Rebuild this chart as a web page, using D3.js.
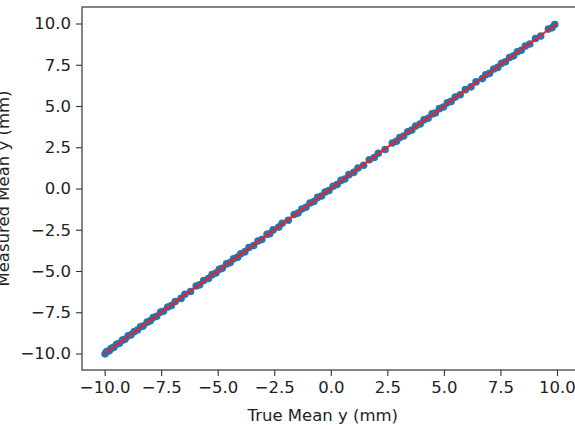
<!DOCTYPE html>
<html>
<head>
<meta charset="utf-8">
<script src="https://cdn.jsdelivr.net/npm/d3@7"></script>
<style>
	body { margin: 0; background: #fff; }
	text { font-family: "DejaVu Sans", sans-serif; }
</style>
</head>
<body>
<div id="vis1"></div>
<script>
// true vs measured mean y (mm)
const trueMean = [
	-9.98, -9.91, -9.80, -9.72, -9.60, -9.47, -9.35, -9.21, -9.10, -8.96,
	-8.83, -8.70, -8.55, -8.41, -8.30, -8.12, -7.98, -7.85, -7.70, -7.52,
	-7.40, -7.21, -7.05, -6.88, -6.62, -6.45, -6.20, -5.95, -5.80, -5.62,
	-5.41, -5.25, -5.08, -4.93, -4.80, -4.61, -4.45, -4.30, -4.12, -3.98,
	-3.80, -3.62, -3.41, -3.22, -3.05, -2.82, -2.70, -2.55, -2.30, -2.15,
	-1.88, -1.62, -1.45, -1.28, -1.10, -0.92, -0.75, -0.58, -0.41, -0.25,
	-0.08, 0.10, 0.28, 0.45, 0.62, 0.80, 1.02, 1.20, 1.45, 1.70,
	1.92, 2.10, 2.40, 2.72, 2.90, 3.05, 3.22, 3.40, 3.58, 3.75,
	3.95, 4.12, 4.30, 4.48, 4.62, 4.80, 4.98, 5.15, 5.32, 5.50,
	5.72, 5.95, 6.20, 6.42, 6.70, 6.85, 7.02, 7.20, 7.38, 7.55,
	7.72, 7.90, 8.08, 8.25, 8.42, 8.60, 8.80, 9.05, 9.28, 9.62,
	9.78, 9.90
];
const measuredMean = [
	-10.02, -9.88, -9.84, -9.70, -9.63, -9.44, -9.38, -9.19, -9.14, -8.93,
	-8.87, -8.68, -8.58, -8.38, -8.34, -8.10, -8.02, -7.82, -7.74, -7.49,
	-7.44, -7.18, -7.09, -6.85, -6.66, -6.41, -6.24, -5.91, -5.84, -5.58,
	-5.45, -5.22, -5.12, -4.90, -4.84, -4.57, -4.49, -4.26, -4.16, -3.95,
	-3.84, -3.58, -3.45, -3.18, -3.09, -2.78, -2.74, -2.51, -2.34, -2.11,
	-1.92, -1.58, -1.49, -1.24, -1.14, -0.88, -0.79, -0.54, -0.45, -0.21,
	-0.12, 0.14, 0.24, 0.49, 0.58, 0.84, 0.98, 1.24, 1.41, 1.74,
	1.88, 2.14, 2.36, 2.76, 2.86, 3.09, 3.18, 3.44, 3.54, 3.79,
	3.91, 4.16, 4.26, 4.52, 4.58, 4.84, 4.94, 5.19, 5.28, 5.54,
	5.68, 5.99, 6.16, 6.46, 6.66, 6.89, 6.98, 7.24, 7.34, 7.59,
	7.68, 7.94, 8.04, 8.29, 8.38, 8.64, 8.76, 9.09, 9.24, 9.66,
	9.74, 9.94
];
const fitLine = [-10, 10];
const xTicks = [-10, -7.5, -5, -2.5, 0, 2.5, 5, 7.5, 10];
const yTicks = [-10, -7.5, -5, -2.5, 0, 2.5, 5, 7.5, 10];

const margin = {top: 7, right: 0, bottom: 59, left: 82};
const width = 497.6;
const height = 363;
const fontSize = 16.5;

const svg = d3.select('#vis1')
	.append('svg')
		.attr("width", 575)
		.attr("height", 429)
	.append("g")
		.attr("transform", `translate(${margin.left},${margin.top})`);

const x = d3.scaleLinear().domain([-11, 11]).range([0, width]);
const y = d3.scaleLinear().domain([-11, 11]).range([height, 0]);
const fmt = d3.format(".1f");

const xAxis = svg.append("g")
	.attr("transform", `translate(0, ${height})`)
	.call(d3.axisBottom(x).tickValues(xTicks).tickFormat(fmt).tickSize(6).tickPadding(5));
const yAxis = svg.append("g")
	.call(d3.axisLeft(y).tickValues(yTicks).tickFormat(fmt).tickSize(6).tickPadding(5));

[xAxis, yAxis].forEach(a => {
	a.select(".domain").remove();
	a.selectAll("line").attr("stroke", "#333").attr("stroke-width", 1.1);
	a.selectAll("text")
		.attr("fill", "#222")
		.style("font-size", fontSize + "px")
		.style("font-family", "'DejaVu Sans', sans-serif");
});

// points
svg.selectAll("circle")
	.data(trueMean.map((d, i) => [d, measuredMean[i]]))
	.join("circle")
		.attr("cx", d => x(d[0]))
		.attr("cy", d => y(d[1]))
		.attr("r", 3.8)
		.attr("fill", "#1f77b4");

// y = x line
svg.append("line")
	.attr("x1", x(fitLine[0]))
	.attr("y1", y(fitLine[0]))
	.attr("x2", x(fitLine[1]))
	.attr("y2", y(fitLine[1]))
	.attr("stroke", "#ff1a1a")
	.attr("stroke-width", 2.1);

// frame
svg.append("rect")
	.attr("width", width)
	.attr("height", height)
	.attr("fill", "none")
	.attr("stroke", "#444")
	.attr("stroke-width", 1.3);

svg.append("text")
	.attr("x", width / 2 - 8)
	.attr("y", height + 51)
	.attr("text-anchor", "middle")
	.attr("fill", "#222")
	.style("font-size", fontSize + "px")
	.text("True Mean y (mm)");

// label is clipped at the left edge in the reference too
svg.append("text")
	.attr("transform", `translate(${-margin.left + 9},${height / 2}) rotate(-90)`)
	.attr("text-anchor", "middle")
	.attr("fill", "#222")
	.style("font-size", fontSize + "px")
	.text("Measured Mean y (mm)");
</script>
</body>
</html>
